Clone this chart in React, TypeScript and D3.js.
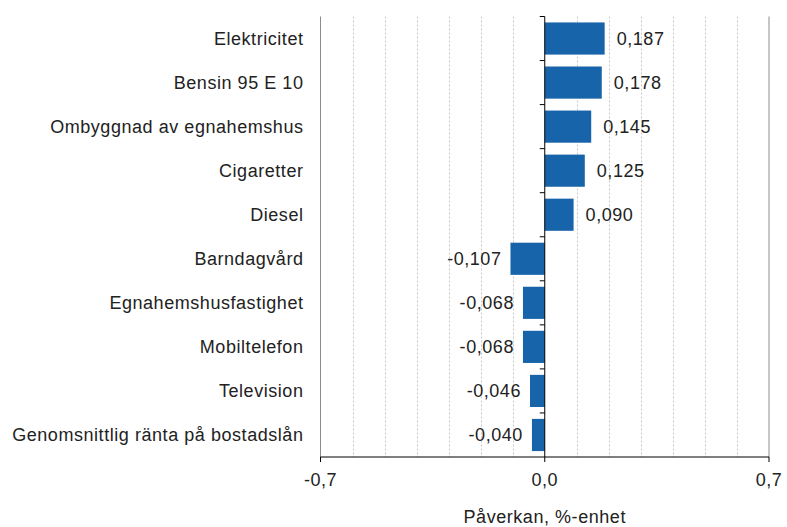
import * as d3 from "d3";

const categories = [
  "Elektricitet",
  "Bensin 95 E 10",
  "Ombyggnad av egnahemshus",
  "Cigaretter",
  "Diesel",
  "Barndagvård",
  "Egnahemshusfastighet",
  "Mobiltelefon",
  "Television",
  "Genomsnittlig ränta på bostadslån",
];
const values = [0.187, 0.178, 0.145, 0.125, 0.09, -0.107, -0.068, -0.068, -0.046, -0.04];
const xTicks = [-0.7, 0, 0.7];
const gridValues = [-0.6, -0.5, -0.4, -0.3, -0.2, -0.1, 0.1, 0.2, 0.3, 0.4, 0.5, 0.6];
const axisTitle = "Påverkan, %-enhet";

const fmt = (v: number) => v.toFixed(Math.abs(v) < 0.5 && v !== 0 ? 3 : 1).replace(".", ",");

export default function App() {
  const width = 787;
  const height = 527;
  const margin = { top: 16.5, right: 18, bottom: 70, left: 320.5 };
  const font = "'Liberation Sans', Arial, sans-serif";
  const ls = 0.55;

  const x = d3.scaleLinear().domain([-0.7, 0.7]).range([margin.left, width - margin.right]);
  const y = d3
    .scaleBand()
    .domain(categories)
    .range([margin.top, height - margin.bottom])
    .paddingInner(0.27)
    .paddingOuter(0.135);
  const step = y.step();
  const bandTop = (c: string) => (y(c) as number) - y.paddingInner() * step / 2;
  const y0 = margin.top;
  const y1 = height - margin.bottom;

  return (
    <svg
      width={width}
      height={height}
      style={{ position: "absolute", left: 0, top: 0, background: "#fff" }}
      fontFamily={font}
      letterSpacing={ls}
    >
      {/* dotted grid */}
      {gridValues.map((g) => (
        <line
          key={g}
          x1={Math.round(x(g)) + 0.5}
          x2={Math.round(x(g)) + 0.5}
          y1={y0}
          y2={y1}
          stroke="#c8c8c8"
          strokeDasharray="2,2"
        />
      ))}
      {/* side borders */}
      <line x1={x(-0.7)} x2={x(-0.7)} y1={y0} y2={y1} stroke="#8c8c8c" />
      <line x1={x(0.7)} x2={x(0.7)} y1={y0} y2={y1} stroke="#8c8c8c" />

      {/* bars */}
      {categories.map((c, i) => {
        const v = values[i];
        const bx = Math.min(x(0), x(v));
        const bw = Math.abs(x(v) - x(0));
        const cy = (y(c) as number) + y.bandwidth() / 2;
        return (
          <g key={c}>
            <rect x={bx} y={y(c)} width={bw} height={y.bandwidth()} fill="#1864aa" />
            <text
              x={v >= 0 ? x(v) + 12 : x(v) - 9}
              y={cy}
              dy="0.35em"
              textAnchor={v >= 0 ? "start" : "end"}
              fontSize={18}
              fill="#222"
            >
              {fmt(v)}
            </text>
            <text x={303.5} y={cy} dy="0.35em" textAnchor="end" fontSize={18} fill="#222">
              {c}
            </text>
          </g>
        );
      })}

      {/* zero axis with category ticks */}
      <line x1={x(0)} x2={x(0)} y1={y0} y2={y1} stroke="#000" />
      {categories.map((c) => (
        <line key={c} x1={x(0) - 5} x2={x(0)} y1={bandTop(c)} y2={bandTop(c)} stroke="#000" />
      ))}

      {/* bottom axis */}
      <line x1={x(-0.7)} x2={x(0.7)} y1={y1} y2={y1} stroke="#000" />
      {xTicks.map((t) => (
        <g key={t}>
          <line x1={x(t)} x2={x(t)} y1={y1} y2={y1 + 5} stroke="#000" />
          <text x={x(t)} y={y1 + 23} dy="0.35em" textAnchor="middle" fontSize={18} fill="#222">
            {fmt(t)}
          </text>
        </g>
      ))}
      <text x={x(0)} y={y1 + 60} dy="0.35em" textAnchor="middle" fontSize={18} fill="#222">
        {axisTitle}
      </text>
    </svg>
  );
}
